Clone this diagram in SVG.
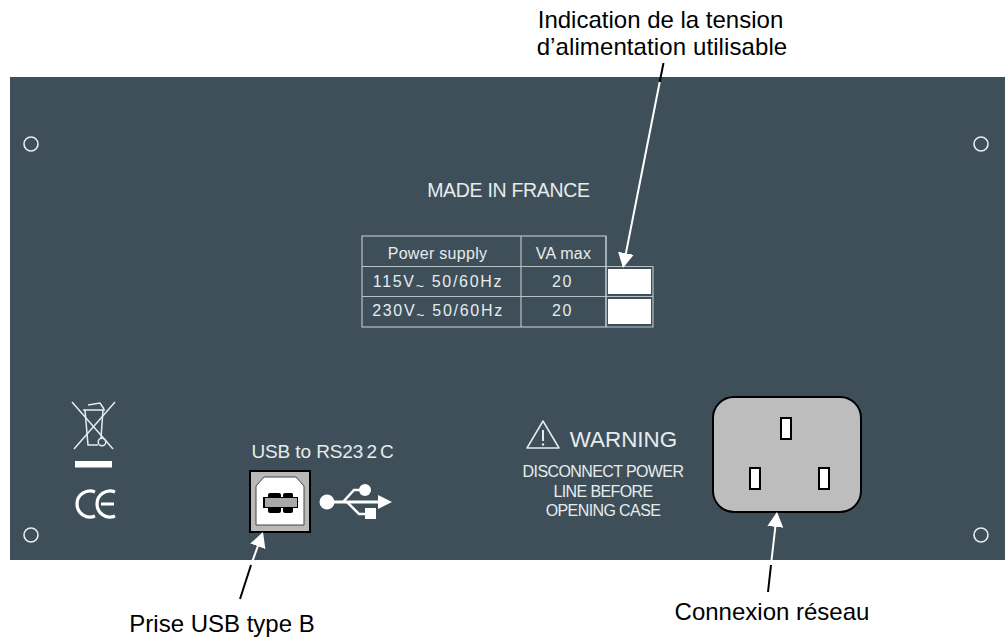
<svg xmlns="http://www.w3.org/2000/svg" width="1005" height="637" viewBox="0 0 1005 637">
<style>
text{font-family:"Liberation Sans",Arial,sans-serif}
.cap{font-size:24px;fill:#000;text-anchor:middle}
.lab{fill:#e6ecee;text-anchor:middle}
.tb{font-size:16px;letter-spacing:.3px}
.tv{font-size:16px;letter-spacing:1.7px}
.wl{font-size:16px;letter-spacing:-.6px}
.hole{fill:none;stroke:#e8edef;stroke-width:1.6}
.grid{fill:none;stroke:#b5c3c7;stroke-width:1.2}
.sym{fill:none;stroke:#e6ecee;stroke-width:1.5}
.pin{fill:#fff;stroke:#000;stroke-width:2}
</style>
<defs>
<marker id="ah" markerUnits="userSpaceOnUse" markerWidth="16" markerHeight="16" refX="13" refY="8" orient="auto"><path d="M0 0L15 8L0 16Z" fill="#fff"/></marker>
</defs>
<rect width="1005" height="637" fill="#fff"/>
<g id="panel">
<rect x="10" y="77" width="995" height="483" fill="#3f4f59"/>
<circle class="hole" cx="31" cy="144" r="7"/><circle class="hole" cx="981" cy="144" r="7"/>
<circle class="hole" cx="31" cy="535" r="7"/><circle class="hole" cx="981" cy="535" r="7"/>
</g>
<g id="made"><text class="lab" x="508.500" y="197" font-size="19.500" letter-spacing="-.3">MADE IN FRANCE</text></g>
<g id="table">
<rect class="grid" x="362" y="236" width="244" height="91"/>
<path class="grid" d="M362 266.500H653V327H606M362 296.500H653M521 236V327M606 236V327"/>
<rect x="608" y="269" width="43" height="25" fill="#fff"/>
<rect x="608" y="299" width="43" height="25" fill="#fff"/>
<text class="lab tb" x="437.500" y="259">Power supply</text>
<text class="lab tb" x="563.500" y="259">VA max</text>
<text class="lab tv" x="438" y="287">115V<tspan font-size="14" dy="4">~</tspan><tspan dy="-4"> 50/60Hz</tspan></text>
<text class="lab tv" x="438" y="316">230V<tspan font-size="14" dy="4">~</tspan><tspan dy="-4"> 50/60Hz</tspan></text>
<text class="lab tv" x="562.500" y="287">20</text>
<text class="lab tv" x="562.500" y="316">20</text>
</g>
<g id="recycle">
<path class="sym" d="M72 402L113 449M115 402L74 449"/>
<path class="sym" d="M83 410H105M85 410L88 445H98M103 410L101 438M88 405L100 403L104 409"/>
<circle class="sym" cx="102" cy="442" r="3.800"/>
<rect x="75" y="461" width="37" height="6.500" fill="#fff"/>
</g>
<g id="ce">
<path d="M95 492A13 13 0 1 0 95 516M115 492A13 13 0 1 0 115 516M101 504H114" fill="none" stroke="#fff" stroke-width="3.200"/>
</g>
<g id="usb">
<text class="lab" x="322.500" y="458" font-size="19" letter-spacing="-.1">USB to RS2<tspan letter-spacing="3">32</tspan>C</text>
<rect x="250" y="471" width="60" height="61" fill="#b9b9b9" stroke="#000" stroke-width="2"/>
<path d="M256 525V486L264 477H296L304 486V525Z" fill="#fff" stroke="#444" stroke-width="1"/>
<path d="M263 497H268V495A2 2 0 0 1 270 493H279A2 2 0 0 1 281 495V497H283V495A2 2 0 0 1 285 493H292A2 2 0 0 1 293 495V497H298V508H293V511A2 2 0 0 1 291 513H285A2 2 0 0 1 283 511V508H281V511A2 2 0 0 1 279 513H270A2 2 0 0 1 268 511V508H263Z" fill="#000"/>
<rect x="265" y="498" width="32" height="9" fill="#a8a8a8"/>
</g>
<g id="usb-symbol" fill="#fff" stroke="none">
<circle cx="327" cy="502" r="7.500"/>
<path d="M327 500.500H380V503.500H327Z"/>
<path d="M378 495L392 502L378 509Z"/>
<circle cx="365" cy="490" r="6"/>
<path d="M343 502L354 490H362" fill="none" stroke="#fff" stroke-width="2.500"/>
<path d="M347 502L359 514H367" fill="none" stroke="#fff" stroke-width="2.500"/>
<rect x="365" y="508" width="11" height="11"/>
</g>
<g id="warning">
<path d="M543 421L559 448H527Z" fill="none" stroke="#e6ecee" stroke-width="1.500" stroke-linejoin="round"/>
<path d="M543 430V441" stroke="#e6ecee" stroke-width="2"/><circle cx="543" cy="444.500" r="1.200" fill="#e6ecee"/>
<text class="lab" x="623.500" y="447" font-size="22.400">WARNING</text>
<text class="lab wl" x="603" y="477">DISCONNECT POWER</text>
<text class="lab wl" x="603" y="497">LINE BEFORE</text>
<text class="lab wl" x="603" y="516">OPENING CASE</text>
</g>
<g id="socket">
<rect x="713" y="397" width="148" height="115" rx="21" fill="#bdbdbd" stroke="#000" stroke-width="2"/>
<rect class="pin" x="781" y="418" width="10" height="21"/>
<rect class="pin" x="750" y="468" width="10" height="21"/>
<rect class="pin" x="819" y="468" width="10" height="21"/>
</g>
<g id="connectors" fill="none" stroke-width="2">
<path d="M663.500 63L659.700 82" stroke="#000"/>
<path d="M659.700 82L623.400 266" stroke="#fff" marker-end="url(#ah)"/>
<path d="M251 565L262.300 534" stroke="#fff" marker-end="url(#ah)"/>
<path d="M251 565L240 599" stroke="#000"/>
<path d="M771 565L776.800 514" stroke="#fff" marker-end="url(#ah)"/>
<path d="M771 565L768 592" stroke="#000"/>
</g>
<g id="captions">
<text class="cap" x="660.500" y="28">Indication de la tension</text>
<text class="cap" x="662" y="55" letter-spacing=".1">d’alimentation utilisable</text>
<text class="cap" x="222" y="632">Prise USB type B</text>
<text class="cap" x="772" y="620">Connexion réseau</text>
</g>
</svg>
